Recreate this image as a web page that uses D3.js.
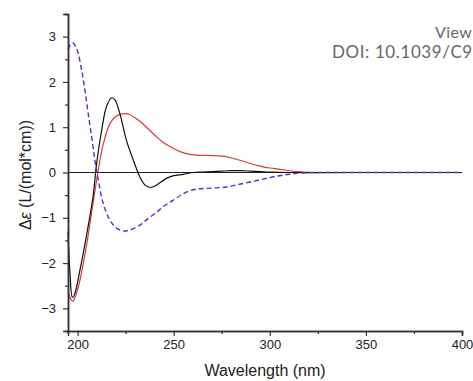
<!DOCTYPE html>
<html><head><meta charset="utf-8">
<script src="https://cdn.jsdelivr.net/npm/d3@7"></script>
<style>
html,body{margin:0;padding:0;background:#fff;overflow:hidden;}
svg{display:block;}
</style></head>
<body>
<svg id="chart" width="473" height="381"></svg>
<script>
// ---- data ----
const blueWl  = [195,196.5,197.6,199,200.3,202.1,203.8,205.5,207.3,209,210.7,213.3,216.8,220,223.7,227,232.4,236,241,245,249.8,254,258.5,263,267.2,272,277.6,283,289.7,297,303.6,310,316,325,340,360,380,400];
const blueVal = [2.72,2.84,2.86,2.78,2.63,2.26,1.82,1.30,0.79,0.27,-0.15,-0.68,-1.05,-1.22,-1.29,-1.27,-1.16,-1.04,-0.88,-0.74,-0.61,-0.49,-0.40,-0.36,-0.35,-0.34,-0.32,-0.27,-0.21,-0.14,-0.08,-0.04,-0.01,0,0,0,0,0];

const redWl  = [195,196.5,197.6,199,201.2,204.5,206,208,209.9,211,213.3,216.8,220,222.5,224.7,227,229.5,232.4,236.8,241,245,249.8,254,258.5,263,267.2,272,275.9,280,284.5,289,293.2,297,301.9,308.8,314,322,340,360,380,400];
const redVal = [-2.64,-2.80,-2.84,-2.72,-2.38,-1.64,-1.25,-0.68,-0.17,0.12,0.62,1.08,1.24,1.29,1.30,1.28,1.22,1.13,0.96,0.79,0.65,0.53,0.45,0.40,0.38,0.38,0.37,0.36,0.32,0.27,0.21,0.16,0.12,0.09,0.05,0.02,0,0,0,0,0];

const blackWl  = [195,196,197.3,198.5,201.2,204.5,208,209.9,212.5,215,217.7,219.5,222,225.4,229,232.4,234.5,236.8,239,241,246.2,250,255,260,265,270,275,280,285,290,295,300,310,330,360,400];
const blackVal = [-1.3,-2.2,-2.76,-2.68,-2.16,-1.42,-0.54,0.2,0.93,1.45,1.65,1.60,1.30,0.71,0.27,-0.10,-0.25,-0.32,-0.32,-0.28,-0.13,-0.07,-0.04,0.0,0.01,0.02,0.03,0.04,0.04,0.03,0.02,0.01,0,0,0,0];

const xTicks = [200,250,300,350,400];
const xMinor = [225,275,325,375];
const yTicks = [-3,-2,-1,0,1,2,3];
const yMinor = [-3.5,-2.5,-1.5,-0.5,0.5,1.5,2.5,3.5];

// ---- layout ----
const svg = d3.select("#chart");
const x = d3.scaleLinear().domain([195,400]).range([68,462]);
const y = d3.scaleLinear().domain([-3.5,3.5]).range([331,14]);
const font = "'Liberation Sans', Arial, sans-serif";
const axisColor = "#333";

// zero line
svg.append("line").attr("x1",x(195)).attr("x2",x(400)).attr("y1",y(0)).attr("y2",y(0))
  .attr("stroke","#222").attr("stroke-width",1);

// lines
const line = d3.line().x(d=>x(d[0])).y(d=>y(d[1])).curve(d3.curveCatmullRom.alpha(0.5));
function draw(wl, val, color, dash, w){
  svg.append("path").datum(wl.map((v,i)=>[v,val[i]]))
    .attr("d",line).attr("fill","none").attr("stroke",color)
    .attr("stroke-width",w).attr("stroke-dasharray",dash||null);
}
draw(redWl, redVal, "#d63a3a", null, 1.2);
draw(blackWl, blackVal, "#111", null, 1.2);
draw(blueWl, blueVal, "#3a3ad0", "5,3", 1.4);

// axes
const xAxis = svg.append("g").attr("transform",`translate(0,${y(-3.5)})`)
  .call(d3.axisBottom(x).tickValues(xTicks).tickSize(5).tickPadding(4).tickFormat(d3.format("d")));
const xAxisMinor = svg.append("g").attr("transform",`translate(0,${y(-3.5)})`)
  .call(d3.axisBottom(x).tickValues(xMinor).tickSize(3).tickFormat(""));
const yAxis = svg.append("g").attr("transform",`translate(${x(195)},0)`)
  .call(d3.axisLeft(y).tickValues(yTicks).tickSize(5).tickPadding(7).tickFormat(d3.format("d")));
const yAxisMinor = svg.append("g").attr("transform",`translate(${x(195)},0)`)
  .call(d3.axisLeft(y).tickValues(yMinor).tickSize(3).tickFormat(""));

[xAxis,xAxisMinor,yAxis,yAxisMinor].forEach(g=>{
  g.select(".domain").attr("stroke",axisColor).attr("stroke-width",1.5);
  g.selectAll(".tick line").attr("stroke",axisColor).attr("stroke-width",1.2);
  g.selectAll("text").attr("font-family",font).attr("font-size",13).attr("fill","#222");
});

// axis titles
svg.append("text").attr("x",265).attr("y",376).attr("text-anchor","middle")
  .attr("font-family",font).attr("font-size",16).attr("fill","#222").text("Wavelength (nm)");
const yl = svg.append("text").attr("transform","translate(31,175) rotate(-90)")
  .attr("text-anchor","middle").attr("font-family",font).attr("font-size",16).attr("fill","#222");
yl.append("tspan").text("Δ");
yl.append("tspan").attr("font-style","italic").text("ε");
yl.append("tspan").text(" (L/(mol*cm))");

// watermark
svg.append("text").attr("x",435).attr("y",38).attr("font-family","Lato, sans-serif")
  .attr("font-size",16).attr("letter-spacing",0.4).attr("fill","#666").text("View");
svg.append("text").attr("x",332).attr("y",58).attr("font-family","Lato, sans-serif")
  .attr("font-size",17).attr("letter-spacing",0.6).attr("fill","#666").text("DOI: 10.1039/C9");
</script>
</body></html>
